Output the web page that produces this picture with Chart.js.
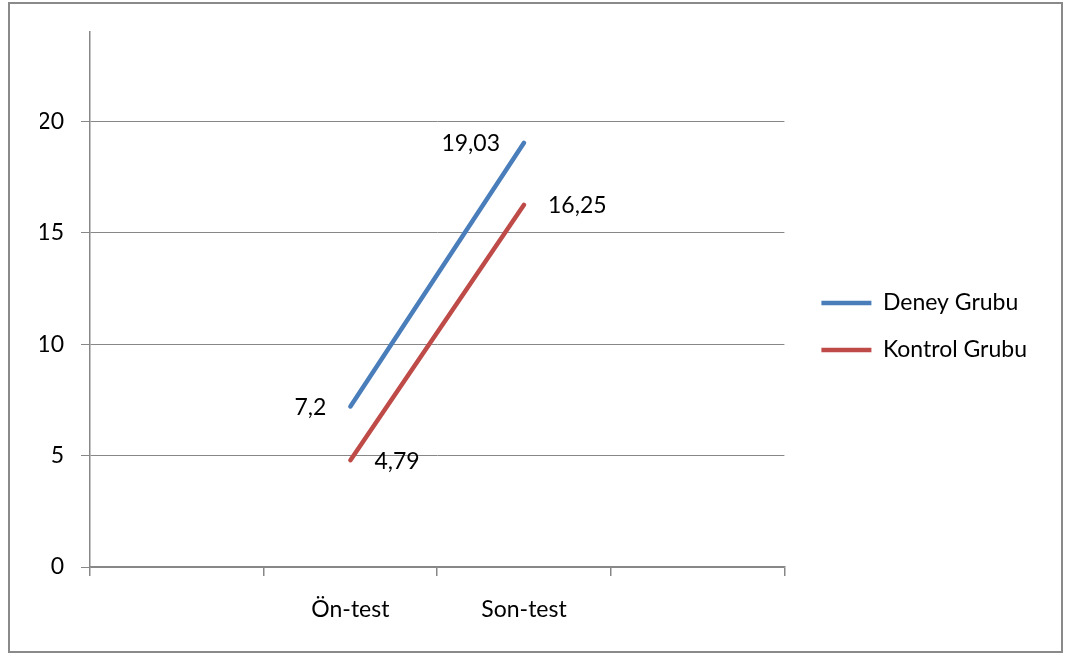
<!DOCTYPE html>
<html>
<head>
<meta charset="utf-8">
<script src="https://cdn.jsdelivr.net/npm/chart.js@4/dist/chart.umd.min.js"></script>
<style>
  html, body { margin: 0; padding: 0; background: #fff; }
  #wrap { width: 1065px; height: 655px; }
</style>
</head>
<body>
<div id="wrap"><canvas id="chart" width="1065" height="655"></canvas></div>
<script>
// Test periods (outer empty slots keep the Excel-style spacing)
const categories = ['', 'Ön-test', 'Son-test', ''];
// Mean scores per group
const deneyGrubu = [null, 7.2, 19.03, null];
const kontrolGrubu = [null, 4.79, 16.25, null];
const seriesNames = ['Deney Grubu', 'Kontrol Grubu'];
// Value axis
const yMin = 0;
const yMax = 24;
const yStep = 5;

const FONT = 'Lato, "Open Sans", sans-serif';
const GRID = '#878787';

// Thin frame around the whole chart
const framePlugin = {
  id: 'frame',
  beforeDraw(chart) {
    const ctx = chart.ctx;
    ctx.save();
    ctx.fillStyle = '#fff';
    ctx.fillRect(0, 0, chart.width, chart.height);
    ctx.strokeStyle = '#8a8a8a';
    ctx.lineWidth = 2;
    ctx.strokeRect(9, 3, chart.width - 12, chart.height - 6);
    ctx.restore();
  }
};

// Value labels next to each point (decimal comma)
const valueLabelPlugin = {
  id: 'valueLabels',
  afterDatasetsDraw(chart) {
    const ctx = chart.ctx;
    ctx.save();
    ctx.font = '23px ' + FONT;
    ctx.fillStyle = '#000';
    ctx.textBaseline = 'middle';
    chart.data.datasets.forEach((ds, di) => {
      const meta = chart.getDatasetMeta(di);
      const side = di === 0 ? -1 : 1;
      meta.data.forEach((pt, i) => {
        const v = ds.data[i];
        if (v === null || v === undefined) return;
        const txt = String(v).replace('.', ',');
        ctx.textAlign = side < 0 ? 'right' : 'left';
        ctx.fillText(txt, pt.x + side * 24, pt.y + 1);
      });
    });
    ctx.restore();
  }
};

new Chart(document.getElementById('chart'), {
  type: 'line',
  data: {
    labels: categories,
    datasets: [
      {
        label: seriesNames[0],
        data: deneyGrubu,
        borderColor: '#4A7EBB',
        backgroundColor: '#4A7EBB',
        borderWidth: 4.5,
        borderCapStyle: 'round',
        pointRadius: 0,
        pointHoverRadius: 0,
        tension: 0
      },
      {
        label: seriesNames[1],
        data: kontrolGrubu,
        borderColor: '#BE4B48',
        backgroundColor: '#BE4B48',
        borderWidth: 4.5,
        borderCapStyle: 'round',
        pointRadius: 0,
        pointHoverRadius: 0,
        tension: 0
      }
    ]
  },
  options: {
    responsive: false,
    animation: false,
    devicePixelRatio: 1,
    layout: { padding: { top: 32, left: 40, right: 28, bottom: 34 } },
    font: { family: FONT },
    plugins: {
      tooltip: { enabled: false },
      legend: {
        position: 'right',
        align: 'center',
        maxWidth: 400,
        labels: {
          usePointStyle: true,
          pointStyle: 'line',
          pointStyleWidth: 50,
          padding: 24,
          color: '#000',
          font: { family: FONT, size: 23 }
        }
      }
    },
    scales: {
      x: {
        type: 'category',
        offset: true,
        grid: {
          offset: true,
          drawOnChartArea: false,
          drawTicks: true,
          tickLength: 9,
          color: GRID,
          lineWidth: 1.5
        },
        border: { display: true, color: GRID, width: 1.5 },
        ticks: {
          color: '#000',
          font: { family: FONT, size: 23 },
          padding: 20,
          maxRotation: 0,
          autoSkip: false
        },
        afterFit(s) { s.height = 54; }
      },
      y: {
        type: 'linear',
        min: yMin,
        max: yMax,
        grid: {
          color: GRID,
          lineWidth: 1,
          drawTicks: true,
          tickLength: 9
        },
        border: { display: true, color: GRID, width: 1.5 },
        ticks: {
          stepSize: yStep,
          includeBounds: false,
          color: '#000',
          font: { family: FONT, size: 23 },
          padding: 17
        },
        afterFit(s) { s.width = 50; }
      },
      legendGap: {
        type: 'linear',
        position: 'right',
        display: true,
        grid: { display: false },
        border: { display: false },
        ticks: { display: false },
        afterFit(s) { s.width = 13; }
      }
    }
  },
  plugins: [framePlugin, valueLabelPlugin]
});
</script>
</body>
</html>
